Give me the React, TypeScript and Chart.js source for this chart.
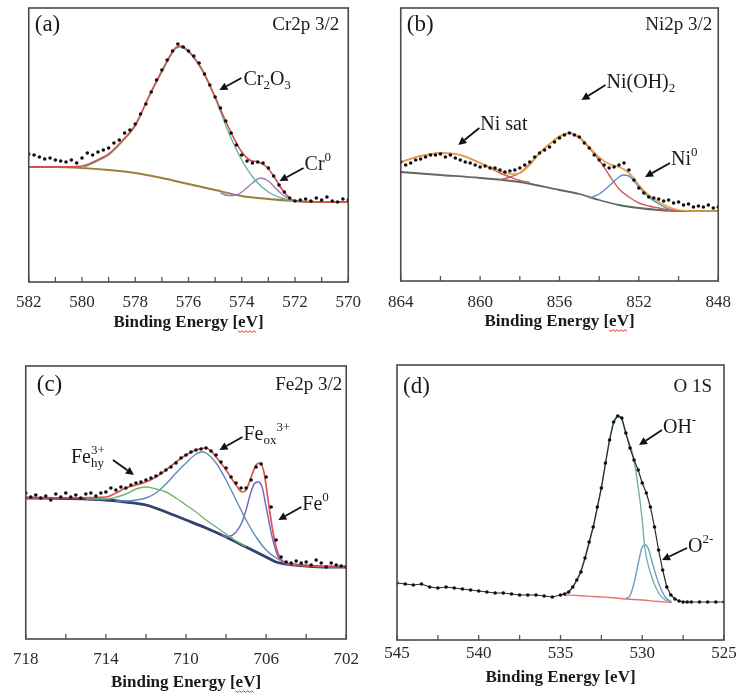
import React, { useEffect, useRef } from 'react';
import { Chart, registerables } from 'chart.js';
Chart.register(...registerables);

const SERIF = '"Liberation Serif", "Times New Roman", serif';

// ---------- (a) Cr2p 3/2 ----------
const aDotX = [582,581.8,581.6,581.4,581.2,581,580.8,580.6,580.4,580.2,580,579.8,579.6,579.4,579.2,579,578.8,578.6,578.4,578.2,578,577.8,577.6,577.4,577.2,577,576.8,576.6,576.4,576.2,576,575.8,575.6,575.4,575.2,575,574.8,574.6,574.4,574.2,574,573.8,573.6,573.4,573.2,573,572.8,572.6,572.4,572.2,572,571.8,571.6,571.4,571.2,571,570.8,570.6,570.4,570.2,570];
const aDotY = [128,127,125,123,124,122,121,120,122,119,124,129,127,130,132,134,139,142,149,152,158,168,178,190,202,212,222,231,238,235,231,226,219,208,197,185,174,161,149,137,127,121,119,120,119,114,106,97,90,84,81,82,83,81,84,82,85,81,80,83,82];
const aBgX = [582,581,580,579,578,577,576,575,574,573,572,571,570];
const aBgY = [115,115,114,112,109,104,98,92,86,83,81,80,80];
const aFitX = [582,581,580,579.5,579,578.5,578,577.5,577,576.5,576.3,576,575.5,575,574.5,574,573.7,573.4,573.1,572.8,572.5,572.2,572,571,570];
const aFitY = [115,115,116,121,128,141,157,185,211,234,236,231,213,185,155,130,122,120,116,106,93,84,81,80,80];
const aOxX = [580,579.5,579,578.5,578,577.5,577,576.5,576.3,576,575.5,575,574.5,574,573.5,573,572.5,572,571.5];
const aOxY = [114,120,127,140,156,184,210,233,235,230,212,184,150,122,102,90,84,81,80];
const aMetX = [574.8,574.5,574.2,573.9,573.6,573.3,573,572.7,572.4,572.1,571.8];
const aMetY = [89,86.5,87,92,99,104,101,93,86,82,80.5];

// ---------- (b) Ni2p 3/2 ----------
const bDotX = [864,863.75,863.5,863.25,863,862.75,862.5,862.25,862,861.75,861.5,861.25,861,860.75,860.5,860.25,860,859.75,859.5,859.25,859,858.75,858.5,858.25,858,857.75,857.5,857.25,857,856.75,856.5,856.25,856,855.75,855.5,855.25,855,854.75,854.5,854.25,854,853.75,853.5,853.25,853,852.75,852.5,852.25,852,851.75,851.5,851.25,851,850.75,850.5,850.25,850,849.75,849.5,849.25,849,848.75,848.5,848.25,848];
const bDotY = [119,116,118,121,122,124,126,126,127,124,126,123,121,119,118,116,114,115,113,113,111,109,110,111,113,116,119,124,128,131,134,139,143,146,148,146,144,138,133,126,121,116,113,114,116,118,111,101,93,88,84,83,82,80,81,78,79,76,77,74,75,74,76,73,74];
const bBgX = [864,862,860,858,856,855,854,853,852,851,850,849,848];
const bBgY = [109,106,103,99,91,87,81,76,73,71,70,70,70];
const bFitX = [864,863,862,861,860,859,858.5,858,857.5,857,856.5,856,855.5,855,854.5,854,853.5,853,852.7,852.3,852,851.5,851,850.5,850,849,848];
const bFitY = [119,125,128,126,118,110,107,108,116,128,137,145,148,144,134,124,117,114,111,104,96,86,79,74,71,70,70];
const bSatX = [864,863,862,861,860,859,858.5,858,857.5];
const bSatY = [119,125,128,126,118,108,104,100.5,98.5];
const bHydX = [859,858.5,858,857.5,857,856.5,856,855.5,855,854.5,854,853.5,853,852.5,852,851.5,851,850.5,850];
const bHydY = [101,104,108,117,128,137,144,148,143,133,121,106,92,84,78,75,73,71,70];
const bMetX = [854.5,854,853.5,853,852.8,852.5,852,851.5,851,850.5,850];
const bMetY = [83,87,95,104,106,105,94,84,77,72,70];

// ---------- (c) Fe2p 3/2 ----------
const cDotX = [718,717.75,717.5,717.25,717,716.75,716.5,716.25,716,715.75,715.5,715.25,715,714.75,714.5,714.25,714,713.75,713.5,713.25,713,712.75,712.5,712.25,712,711.75,711.5,711.25,711,710.75,710.5,710.25,710,709.75,709.5,709.25,709,708.75,708.5,708.25,708,707.75,707.5,707.25,707,706.75,706.5,706.25,706,705.75,705.5,705.25,705,704.75,704.5,704.25,704,703.75,703.5,703.25,703,702.75,702.5,702.25,702];
const cDotY = [146,142,144,141,143,139,145,142,146,142,144,141,145,146,143,146,147,151,149,152,151,154,156,157,159,161,163,166,169,172,176,181,184,187,189,190,191,188,184,177,171,162,156,151,151,159,172,175,162,132,99,82,77,76,78,76,77,74,79,76,72,76,74,73,72];
const cBgX = [718,716,714,713,712,711,710,709,708,707,706,705.5,705,704,703,702];
const cBgY = [141,140.5,139,137,134,127,119,111,102,92,82,77,75,73,72,72];
const cFitX = [718,714,713.5,713,712.5,712,711.5,711,710.5,710,709.5,709,708.7,708.5,708,707.5,707.2,707,706.8,706.5,706.3,706.1,705.9,705.7,705.5,705.3,705,704.5,704,702];
const cFitY = [141,142,146,151,154,157,162,169,177,184,189,191,187,182,169,154,147,149,159,174,176,166,139,112,92,81,76,74,73,72];
const cHyX = [715,714,713,712.5,712,711.5,711,710.5,710,709.5,709,708.5,708,707.5,707];
const cHyY = [140,140,145,150,152,150,147,141,134,127,119,112,105,98,92.5];
const cOxX = [713.5,713,712.5,712,711.5,711,710.5,710,709.5,709.2,709,708.5,708,707.5,707,706.5,706,705.5,705,704.5];
const cOxY = [138,138,139,141,146,155,166,176,185,187,186,176,159,139,119,102,89,81,76,74];
const cMetX = [708.2,708,707.5,707.2,707,706.8,706.6,706.4,706.2,706,705.7,705.4,705.2,705,704.8];
const cMetY = [104,102,107,117,129,144,155,157,152,132,102,82,77,75,74];

// ---------- (d) O 1S ----------
const dDotX = [545,544.5,544,543.5,543,542.5,542,541.5,541,540.5,540,539.5,539,538.5,538,537.5,537,536.5,536,535.5,535,534.75,534.5,534.25,534,533.75,533.5,533.25,533,532.75,532.5,532.25,532,531.75,531.5,531.25,531,530.75,530.5,530.25,530,529.75,529.5,529.25,529,528.75,528.5,528.25,528,527.75,527.5,527.25,527,526.5,526,525.5,525];
const dDotY = [57,56,55,56,53,52,53,52,51,50,49,48,47,47,46,45,45,45,44,43,45,46,48,53,60,68,82,98,113,133,152,177,200,218,224,222,207,192,180,170,157,147,133,113,90,70,53,45,41,39,38,38,38,38,38,38,38];
const dBgX = [534.8,534,533,532,531,530,529,528.2];
const dBgY = [45,44.5,43.5,42.5,41,40,38.5,37.5];
const dOhX = [535,534.5,534,533.5,533,532.5,532,531.75,531.5,531.25,531,530.6,530.25,530,529.85,529.5,529,528.6,528.2];
const dOhY = [45,48,60,82,113,152,200,218,224,221,206,187,153,120,93,67,47,40,38];
const dO2X = [531,530.8,530.5,530.2,530,529.8,529.6,529.4,529,528.6,528.2];
const dO2Y = [42,43,57,80,93,95,90,78,57,43,38];

const pts = (xs: number[], ys: number[]) => xs.map((x, i) => ({ x, y: ys[i] }));

type Seg = { t: string; m?: 'sub' | 'sup'; stack?: boolean };
type Note = { tip: [number, number]; tail: [number, number]; at: [number, number]; segs: Seg[] };

const line = (label: string, xs: number[], ys: number[], color: string, width: number, order: number) => ({
  label, data: pts(xs, ys), borderColor: color, backgroundColor: color, borderWidth: width,
  pointRadius: 0, tension: 0.4, cubicInterpolationMode: 'monotone', order, showLine: true,
});
const dots = (xs: number[], ys: number[], withLine = false) => ({
  label: 'data', data: pts(xs, ys), borderColor: '#2a2a2a', backgroundColor: '#111', borderWidth: withLine ? 1.2 : 0,
  pointRadius: 1.8, pointBorderWidth: 0, showLine: withLine, order: 0,
});

const panels = [
  {
    key: 'a', box: { x: 26, y: 8, w: 325, h: 274 }, axisH: 51, tickPad: 10, squiggle: true,
    min: 570, max: 582, step: 2, minor: 1,
    tag: '(a)', tagDx: 6, tagDy: 17, title: 'Cr2p 3/2', titleDx: 9,
    datasets: [
      line('bg', aBgX, aBgY, '#a07b3e', 2, 3),
      line('Cr2O3', aOxX, aOxY, '#62b59c', 1.4, 2),
      line('Cr0', aMetX, aMetY, '#9a7cba', 1.4, 2),
      line('fit', aFitX, aFitY, '#d8504a', 1.6, 1),
      dots(aDotX, aDotY),
    ],
    notes: [
      { tip: [574.84, 192], tail: [22, -12], at: [24, -10], segs: [{ t: 'Cr' }, { t: '2', m: 'sub' }, { t: 'O' }, { t: '3', m: 'sub' }] },
      { tip: [572.58, 101], tail: [24, -13], at: [25, -16], segs: [{ t: 'Cr' }, { t: '0', m: 'sup' }] },
    ] as Note[],
  },
  {
    key: 'b', box: { x: 397, y: 8, w: 325, h: 273 }, axisH: 51, tickPad: 11, squiggle: true,
    min: 848, max: 864, step: 4, minor: 2,
    tag: '(b)', tagDx: 6, tagDy: 17, title: 'Ni2p 3/2', titleDx: 6,
    datasets: [
      line('bg', bBgX, bBgY, '#5d6b5e', 1.8, 3),
      line('sat', bSatX, bSatY, '#d45a5a', 1.4, 2),
      line('NiOH2', bHydX, bHydY, '#d45a5a', 1.4, 2),
      line('Ni0', bMetX, bMetY, '#5c8cc2', 1.4, 2),
      line('fit', bFitX, bFitY, '#e8a23e', 1.6, 1),
      dots(bDotX, bDotY),
    ],
    notes: [
      { tip: [861.1, 136], tail: [21, -17], at: [22, -20], segs: [{ t: 'Ni sat' }] },
      { tip: [854.89, 181], tail: [24, -15], at: [25, -17], segs: [{ t: 'Ni(OH)' }, { t: '2', m: 'sub' }] },
      { tip: [851.69, 104], tail: [25, -14], at: [26, -17], segs: [{ t: 'Ni' }, { t: '0', m: 'sup' }] },
    ] as Note[],
  },
  {
    key: 'c', box: { x: 23, y: 366, w: 326, h: 273 }, axisH: 54, tickPad: 10, squiggle: true,
    min: 702, max: 718, step: 4, minor: 2,
    tag: '(c)', tagDx: 11, tagDy: 19, title: 'Fe2p 3/2', titleDx: 4,
    datasets: [
      line('bg', cBgX, cBgY, '#34416e', 2.8, 3),
      line('hy', cHyX, cHyY, '#72b472', 1.4, 2),
      line('ox', cOxX, cOxY, '#5b8cba', 1.4, 2),
      line('Fe0', cMetX, cMetY, '#6a68b8', 1.4, 2),
      line('fit', cFitX, cFitY, '#e25252', 1.7, 1),
      dots(cDotX, cDotY),
    ],
    notes: [
      { tip: [712.6, 164], tail: [-21, -15], at: [-63, -17], segs: [{ t: 'Fe' }, { t: 'hy', m: 'sub', stack: true }, { t: '3+', m: 'sup' }] },
      { tip: [708.33, 189], tail: [23, -13], at: [24, -15], segs: [{ t: 'Fe' }, { t: 'ox', m: 'sub' }, { t: '3+', m: 'sup' }] },
      { tip: [705.39, 119], tail: [23, -13], at: [24, -15], segs: [{ t: 'Fe' }, { t: '0', m: 'sup' }] },
    ] as Note[],
  },
  {
    key: 'd', box: { x: 397, y: 365, w: 327, h: 275 }, axisH: 48, tickPad: 3, squiggle: false,
    min: 525, max: 545, step: 5, minor: 2.5,
    tag: '(d)', tagDx: 6, tagDy: 22, title: 'O 1S', titleDx: 12,
    datasets: [
      line('bg', dBgX, dBgY, '#e27474', 1.4, 3),
      line('OH', dOhX, dOhY, '#74b4a6', 1.4, 2),
      line('O2', dO2X, dO2Y, '#6c9cca', 1.4, 2),
      dots(dDotX, dDotY, true),
    ],
    notes: [
      { tip: [530.2, 195], tail: [23, -15], at: [24, -17], segs: [{ t: 'OH' }, { t: '-', m: 'sup' }] },
      { tip: [528.79, 80], tail: [25, -12], at: [26, -13], segs: [{ t: 'O' }, { t: '2-', m: 'sup' }] },
    ] as Note[],
  },
];

const NOTE_SIZE = 20;
const AXIS_TITLE = 'Binding Energy [eV]';

function drawRich(ctx: CanvasRenderingContext2D, x: number, y: number, segs: Seg[], size: number) {
  let cx = x;
  ctx.textAlign = 'left';
  ctx.textBaseline = 'middle';
  for (const s of segs) {
    const sz = s.m ? Math.round(size * 0.66) : size;
    ctx.font = `${sz}px ${SERIF}`;
    const dy = s.m === 'sub' ? size * 0.3 : s.m === 'sup' ? -size * 0.35 : 0;
    ctx.fillText(s.t, cx, y + dy);
    if (!s.stack) cx += ctx.measureText(s.t).width;
  }
}

const decoPlugin = {
  id: 'deco',
  afterDatasetsDraw(chart: any, _args: any, opts: any) {
    const { ctx, chartArea: ca, scales } = chart;
    const xs = scales.x, ys = scales.y;
    ctx.save();
    ctx.strokeStyle = '#555';
    ctx.lineWidth = 1.3;
    for (let v = xs.min; v <= xs.max + 1e-6; v += opts.minor) {
      const px = xs.getPixelForValue(v);
      ctx.beginPath();
      ctx.moveTo(px, ca.bottom);
      ctx.lineTo(px, ca.bottom - 5);
      ctx.stroke();
    }
    ctx.lineWidth = 1.6;
    ctx.strokeStyle = '#4a4a4a';
    ctx.strokeRect(ca.left, ca.top, ca.right - ca.left, ca.bottom - ca.top);
    ctx.fillStyle = '#1a1a1a';
    ctx.textBaseline = 'middle';
    ctx.font = `23px ${SERIF}`;
    ctx.textAlign = 'left';
    ctx.fillText(opts.tag, ca.left + opts.tagDx, ca.top + opts.tagDy);
    ctx.font = `19px ${SERIF}`;
    ctx.textAlign = 'right';
    ctx.fillText(opts.title, ca.right - opts.titleDx, ca.top + opts.tagDy);
    for (const n of opts.notes as Note[]) {
      const tx = xs.getPixelForValue(n.tip[0]);
      const ty = ys.getPixelForValue(n.tip[1]);
      const sx = tx + n.tail[0], sy = ty + n.tail[1];
      const ang = Math.atan2(ty - sy, tx - sx);
      const hl = 8, hw = 4;
      const bx = tx - hl * Math.cos(ang), by = ty - hl * Math.sin(ang);
      ctx.strokeStyle = '#111';
      ctx.fillStyle = '#111';
      ctx.lineWidth = 1.8;
      ctx.beginPath();
      ctx.moveTo(sx, sy);
      ctx.lineTo(bx, by);
      ctx.stroke();
      ctx.beginPath();
      ctx.moveTo(tx, ty);
      ctx.lineTo(bx + hw * Math.sin(ang), by - hw * Math.cos(ang));
      ctx.lineTo(bx - hw * Math.sin(ang), by + hw * Math.cos(ang));
      ctx.closePath();
      ctx.fill();
      ctx.fillStyle = '#1a1a1a';
      drawRich(ctx, tx + n.at[0], ty + n.at[1], n.segs, NOTE_SIZE);
    }
    if (opts.squiggle) {
      ctx.font = `bold 17px ${SERIF}`;
      const full = ctx.measureText(AXIS_TITLE).width;
      const pre = ctx.measureText('Binding Energy [').width;
      const ev = ctx.measureText('eV').width;
      const x0 = (xs.left + xs.right) / 2 - full / 2 + pre;
      const y0 = xs.bottom - 10.2 + 8;
      ctx.strokeStyle = '#e03030';
      ctx.lineWidth = 1;
      ctx.beginPath();
      let k = 0;
      for (let x = x0; x <= x0 + ev + 0.1; x += 2, k++) {
        const y = y0 + (k % 2 === 0 ? 0 : 1.6);
        if (k === 0) ctx.moveTo(x, y); else ctx.lineTo(x, y);
      }
      ctx.stroke();
    }
    ctx.restore();
  },
};

function Panel({ p }: { p: any }) {
  const ref = useRef<HTMLCanvasElement | null>(null);
  const W = p.box.w + 40;
  const H = 5 + p.box.h + p.axisH;
  useEffect(() => {
    const chart = new Chart(ref.current as HTMLCanvasElement, {
      type: 'scatter',
      data: { datasets: p.datasets },
      plugins: [decoPlugin as any],
      options: {
        animation: false,
        responsive: false,
        devicePixelRatio: 1,
        layout: { padding: { left: 20, right: 20, top: 5, bottom: 0 } },
        plugins: {
          legend: { display: false },
          tooltip: { enabled: false },
          deco: { tag: p.tag, tagDx: p.tagDx, tagDy: p.tagDy, title: p.title, titleDx: p.titleDx, notes: p.notes, minor: p.minor, squiggle: p.squiggle },
        } as any,
        scales: {
          x: {
            type: 'linear', reverse: true, min: p.min, max: p.max,
            grid: { display: false, drawTicks: false },
            border: { display: false },
            ticks: {
              stepSize: p.step, autoSkip: false, maxRotation: 0, padding: p.tickPad,
              color: '#2a2a2a', font: { family: SERIF, size: 17 },
              callback: (v: any) => String(v),
            },
            title: {
              display: true, text: AXIS_TITLE, color: '#1a1a1a',
              font: { family: SERIF, size: 17, weight: 'bold' }, padding: { top: 0, bottom: 0 },
            },
            afterFit: (s: any) => { s.height = p.axisH; },
          },
          y: { display: false, min: 0, max: p.box.h },
        },
      } as any,
    });
    return () => chart.destroy();
  }, []);
  return (
    <canvas
      ref={ref}
      width={W}
      height={H}
      style={{ position: 'absolute', left: p.box.x - 20, top: p.box.y - 5, width: W, height: H, display: 'block' }}
    />
  );
}

export default function App() {
  return (
    <div style={{ position: 'absolute', left: 0, top: 0, width: 738, height: 700, background: '#fff' }}>
      {panels.map((p) => <Panel key={p.key} p={p} />)}
    </div>
  );
}
